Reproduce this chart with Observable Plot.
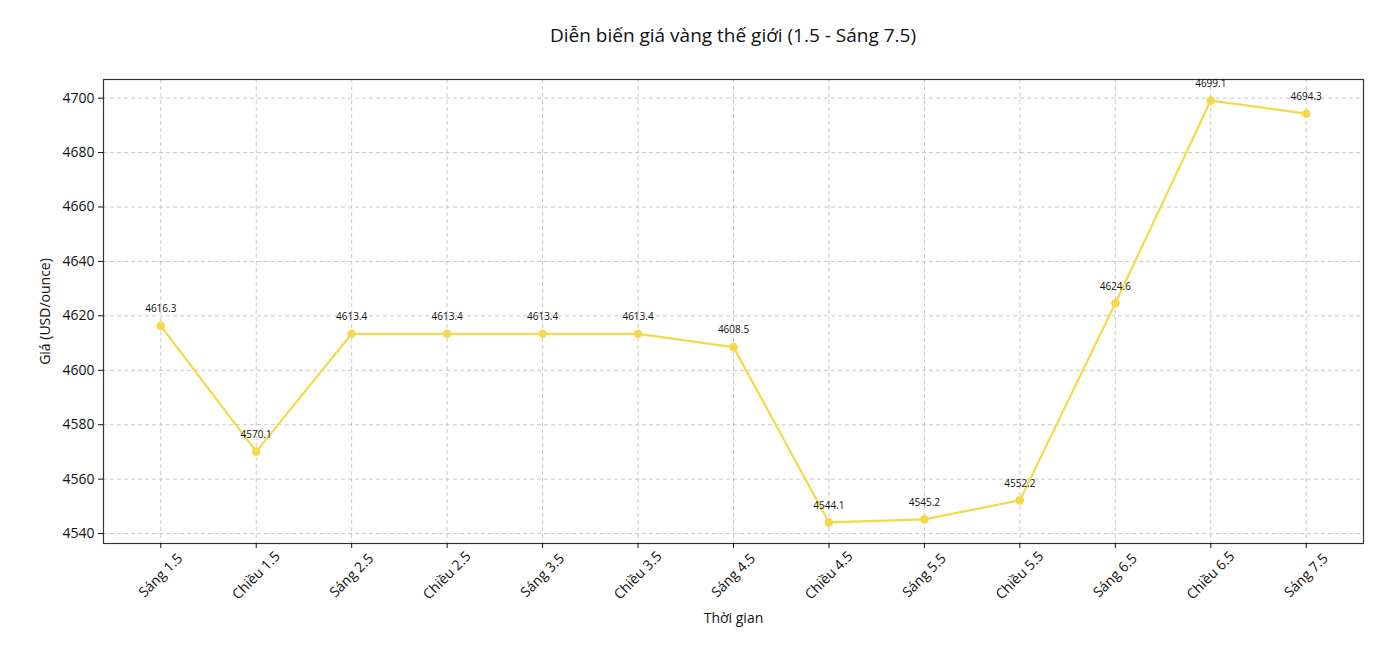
<!DOCTYPE html>
<html>
<head>
<meta charset="utf-8">
<script src="https://cdn.jsdelivr.net/npm/d3@7"></script>
<script src="https://cdn.jsdelivr.net/npm/@observablehq/plot@0.6"></script>
<style>
  body { margin: 0; background: #fff; font-family: "Open Sans", sans-serif; }
  #title { height: 60px; width: 1390px; position: relative; }
  #title span { position: absolute; left: 733px; top: 35px; transform: translate(-50%, -50%); white-space: nowrap; font-size: 19px; color: #111; }
</style>
</head>
<body>
<div id="title"><span>Diễn biến giá vàng thế giới (1.5 - Sáng 7.5)</span></div>
<div id="chart"></div>
<script>
const times = ["Sáng 1.5", "Chiều 1.5", "Sáng 2.5", "Chiều 2.5", "Sáng 3.5", "Chiều 3.5", "Sáng 4.5", "Chiều 4.5", "Sáng 5.5", "Chiều 5.5", "Sáng 6.5", "Chiều 6.5", "Sáng 7.5"];
const prices = [4616.3, 4570.1, 4613.4, 4613.4, 4613.4, 4613.4, 4608.5, 4544.1, 4545.2, 4552.2, 4624.6, 4699.1, 4694.3];
const yTicks = [4540, 4560, 4580, 4600, 4620, 4640, 4660, 4680, 4700];

const data = times.map((t, i) => ({time: t, price: prices[i]}));
const lineColor = "#f6d94a";

const chart = Plot.plot({
  width: 1390,
  height: 598,
  marginLeft: 103,
  marginRight: 27,
  marginTop: 19,
  marginBottom: 115,
  style: {fontFamily: "Open Sans, sans-serif", fontSize: "13px", color: "#111", background: "#fff"},
  x: {type: "point", domain: times, padding: 0.6, round: false, label: null},
  y: {domain: [4536.35, 4706.85], label: null},
  marks: [
    Plot.gridX(times, {stroke: "#bbb", strokeOpacity: 0.8, strokeDasharray: "4,3"}),
    Plot.gridY(yTicks, {stroke: "#bbb", strokeOpacity: 0.8, strokeDasharray: "4,3"}),
    Plot.frame({stroke: "#333", strokeWidth: 1.2}),
    Plot.axisX(times, {tickSize: 5, tickFormat: () => "", label: null}),
    Plot.text(times, {x: d => d, frameAnchor: "bottom", dy: 32, rotate: -45, textAnchor: "middle", lineAnchor: "middle", fontSize: 14, fill: "#111"}),
    Plot.axisY(yTicks, {tickSize: 5, tickPadding: 4, fontSize: 14, tickFormat: d3.format("d"), label: null}),
    Plot.line(data, {x: "time", y: "price", stroke: lineColor, strokeWidth: 2.2}),
    Plot.dot(data, {x: "time", y: "price", fill: lineColor, r: 4.3}),
    Plot.text(data, {x: "time", y: "price", text: d => d.price.toFixed(1), dy: -17, fontSize: 10, fill: "#111"}),
    Plot.text(["Thời gian"], {frameAnchor: "bottom", dy: 79, fontSize: 14, fill: "#111"}),
    Plot.text(["Giá (USD/ounce)"], {frameAnchor: "left", dx: -58, rotate: -90, textAnchor: "middle", fontSize: 14, fill: "#111"})
  ]
});
document.getElementById("chart").appendChild(chart);
</script>
</body>
</html>
